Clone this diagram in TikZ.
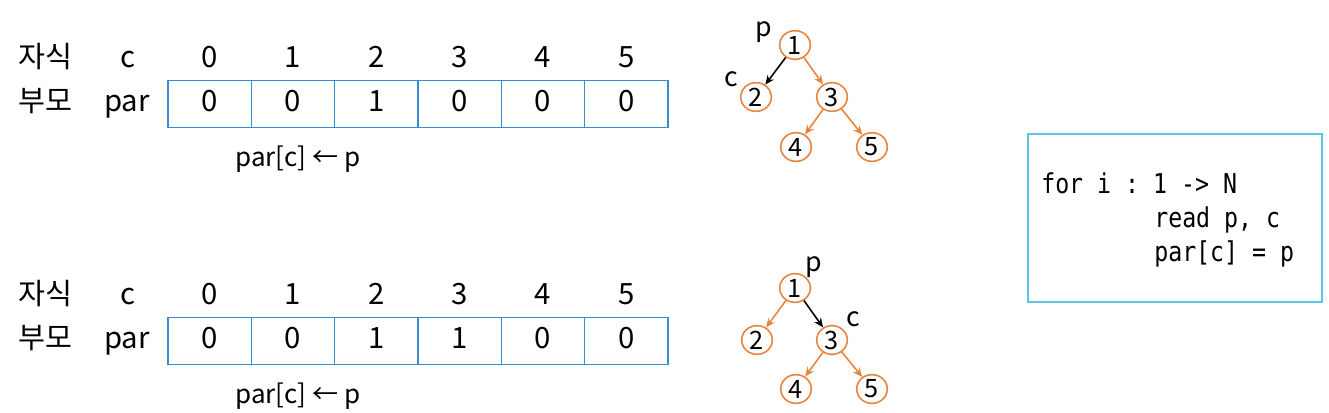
\documentclass[tikz,border=0pt]{standalone}
\usepackage{fontspec}
\setmainfont{Noto Sans CJK KR}
\newfontfamily\codefont[FakeStretch=0.85]{DejaVu Sans Mono}
\usetikzlibrary{shapes.geometric,arrows.meta}
\definecolor{cellblue}{HTML}{3A8CD0}
\definecolor{codecyan}{HTML}{5CC6E4}
\definecolor{treeorange}{HTML}{E8843C}
\tikzset{
  big/.style={font=\fontsize{22}{26}\selectfont, inner sep=0pt, anchor=base},
  small/.style={font=\fontsize{19.5}{22}\selectfont, inner sep=0pt, anchor=base},
  cellbox/.style={draw=cellblue, line width=1.2pt, minimum width=62.5pt, minimum height=35.25pt,
    inner sep=0pt, font=\fontsize{22}{26}\selectfont, text height=16pt, text depth=5.5pt},
  tnode/.style={ellipse, draw=treeorange, line width=1.2pt, minimum width=23pt, minimum height=21.5pt,
    inner sep=0pt, font=\fontsize{19}{22}\selectfont},
  tlabel/.style={font=\fontsize{20}{22}\selectfont, inner sep=0pt, anchor=base},
  oedge/.style={draw=treeorange, line width=1.2pt, -{Stealth[length=7pt,width=6pt]}},
  kedge/.style={draw=black, line width=1.2pt, -{Stealth[length=7pt,width=6pt]}},
  codeline/.style={font=\codefont\frenchspacing\fontsize{20.5}{24}\selectfont, inner sep=0pt, anchor=base west},
}
\begin{document}
\begin{tikzpicture}[x=0.75pt, y=-0.75pt]
\useasboundingbox (0,0) rectangle (1329,412);
% ---------- set 1 ----------
\node[big] (k1) at (45,67) {자식};
\node[big] (c1) at (128,67) {c};
\node[big] (k2) at (45,111) {부모};
\node[big] (p1) at (127,111) {par};
\foreach \i/\v in {0/0,1/0,2/1,3/0,4/0,5/0} {
  \node[big] (ia\i) at (209.7+83.33*\i,67) {\i};
  \node[cellbox] (ca\i) at (209.7+83.33*\i,104) {\v};
}
\node[small] (fa) at (298,166) {par[c] ← p};
% ---------- set 2 ----------
\node[big] (k3) at (45,304) {자식};
\node[big] (c2) at (128,304) {c};
\node[big] (k4) at (45,348) {부모};
\node[big] (p2) at (127,348) {par};
\foreach \i/\v in {0/0,1/0,2/1,3/1,4/0,5/0} {
  \node[big] (ib\i) at (209.7+83.33*\i,304) {\i};
  \node[cellbox] (cb\i) at (209.7+83.33*\i,341) {\v};
}
\node[small] (fb) at (298,403) {par[c] ← p};
% ---------- tree 1 ----------
\node[tnode] (a1) at (795,45) {1};
\node[tnode] (a2) at (756,97) {2};
\node[tnode] (a3) at (832,97) {3};
\node[tnode] (a4) at (796,147) {4};
\node[tnode] (a5) at (872,147) {5};
\node[tlabel] (ap) at (764,36) {p};
\node[tlabel] (ac) at (731,86) {c};
\draw[kedge] (a1) -- (a2);
\draw[oedge] (a1) -- (a3);
\draw[oedge] (a3) -- (a4);
\draw[oedge] (a3) -- (a5);
% ---------- tree 2 ----------
\node[tnode] (b1) at (795,288) {1};
\node[tnode] (b2) at (757,340) {2};
\node[tnode] (b3) at (832,340) {3};
\node[tnode] (b4) at (796,389) {4};
\node[tnode] (b5) at (872,389) {5};
\node[tlabel] (bp) at (814,271) {p};
\node[tlabel] (bc) at (853,326) {c};
\draw[oedge] (b1) -- (b2);
\draw[kedge] (b1) -- (b3);
\draw[oedge] (b3) -- (b4);
\draw[oedge] (b3) -- (b5);
% ---------- code box ----------
\node[draw=codecyan, line width=1.5pt, minimum width=220.5pt, minimum height=126pt, inner sep=0pt] (code) at (1175,217.5) {};
\node[codeline] (l1) at (1041,193) {for i : 1 -> N};
\node[codeline] (l2) at (1154,227) {read p, c};
\node[codeline] (l3) at (1154,261) {par[c] = p};
\end{tikzpicture}
\end{document}
